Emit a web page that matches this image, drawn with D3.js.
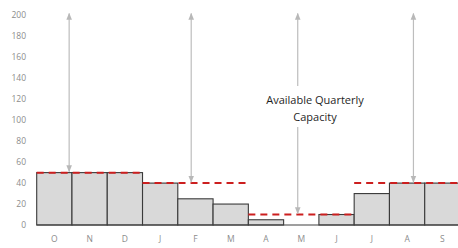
<!DOCTYPE html>
<html>
<head>
<meta charset="utf-8">
<script src="https://cdn.jsdelivr.net/npm/d3@7"></script>
<style>
  body { margin: 0; background: #fff; }
  svg { display: block; }
</style>
</head>
<body>
<script>
// monthly values, Oct..Sep
var months = ["O", "N", "D", "J", "F", "M", "A", "M", "J", "J", "A", "S"];
var usage = [50, 50, 50, 40, 25, 20, 5, 0, 10, 30, 40, 40];
var quarterCapacity = [50, 40, 10, 40];
var yTicks = [0, 20, 40, 60, 80, 100, 120, 140, 160, 180, 200];
// where the "available capacity" arrows sit, in month units
var arrowAt = [0.92, 4.38, 7.4, 10.68];
var label = ["Available Quarterly", "Capacity"];

var width = 458, height = 248;

var svg = d3.select("body").append("svg")
    .attr("width", width)
    .attr("height", height);

var x = d3.scaleBand()
    .domain(d3.range(months.length))
    .range([36.7, 460])
    .padding(0);

var xPos = d3.scaleLinear()
    .domain([0, months.length])
    .range(x.range());

var y = d3.scaleLinear()
    .domain([0, 200])
    .range([225, 15.5]);

var defs = svg.append("defs");
defs.append("marker")
    .attr("id", "head")
    .attr("viewBox", "0 0 10 10")
    .attr("refX", 9)
    .attr("refY", 5)
    .attr("markerWidth", 7)
    .attr("markerHeight", 7)
    .attr("markerUnits", "userSpaceOnUse")
    .attr("orient", "auto-start-reverse")
    .append("path")
    .attr("d", "M0,1L10,5L0,9Z")
    .attr("fill", "#b8b8b8");

// y axis labels (no line)
svg.append("g")
    .selectAll("text")
    .data(yTicks)
    .enter().append("text")
    .attr("x", 26)
    .attr("y", d => y(d))
    .attr("dy", "0.35em")
    .attr("text-anchor", "end")
    .attr("font-family", "Open Sans, sans-serif")
    .attr("font-size", 8.5)
    .attr("fill", "#8c8c8c")
    .text(d => d);

// bars
svg.append("g")
    .selectAll("rect")
    .data(usage)
    .enter().append("rect")
    .attr("x", (d, i) => x(i))
    .attr("y", d => y(d))
    .attr("width", x.bandwidth())
    .attr("height", d => y(0) - y(d))
    .attr("fill", "#d9d9d9")
    .attr("stroke", "#3a3a3a")
    .attr("stroke-width", 1.1);

// baseline
svg.append("line")
    .attr("x1", x.range()[0])
    .attr("x2", width)
    .attr("y1", y(0))
    .attr("y2", y(0))
    .attr("stroke", "#404040")
    .attr("stroke-width", 1.2);

// x labels
svg.append("g")
    .selectAll("text")
    .data(months)
    .enter().append("text")
    .attr("x", (d, i) => x(i) + x.bandwidth() / 2)
    .attr("y", 239)
    .attr("dy", "0.35em")
    .attr("text-anchor", "middle")
    .attr("font-family", "Open Sans, sans-serif")
    .attr("font-size", 8.5)
    .attr("fill", "#8c8c8c")
    .text(d => d);

// quarterly capacity dashed lines
svg.append("g")
    .selectAll("line")
    .data(quarterCapacity)
    .enter().append("line")
    .attr("x1", (d, i) => x(i * 3))
    .attr("x2", (d, i) => x(i * 3 + 2) + x.bandwidth())
    .attr("y1", d => y(d))
    .attr("y2", d => y(d))
    .attr("stroke", "#cc1f1f")
    .attr("stroke-width", 2)
    .attr("stroke-dasharray", "7,5");

// double-headed arrows up to 200
svg.append("g")
    .selectAll("line")
    .data(quarterCapacity)
    .enter().append("line")
    .attr("x1", (d, i) => xPos(arrowAt[i]))
    .attr("x2", (d, i) => xPos(arrowAt[i]))
    .attr("y1", y(200) - 2)
    .attr("y2", d => y(d) - 1)
    .attr("stroke", "#bdbdbd")
    .attr("stroke-width", 1.2)
    .attr("marker-start", "url(#head)")
    .attr("marker-end", "url(#head)");

// annotation with white box behind it
svg.append("rect")
    .attr("x", 256)
    .attr("y", 86)
    .attr("width", 118)
    .attr("height", 41)
    .attr("fill", "#fff");

svg.append("text")
    .attr("x", 315)
    .attr("y", 100)
    .attr("text-anchor", "middle")
    .attr("font-family", "Open Sans, sans-serif")
    .attr("font-size", 11)
    .attr("fill", "#1f1f1f")
    .selectAll("tspan")
    .data(label)
    .enter().append("tspan")
    .attr("x", 315)
    .attr("dy", (d, i) => i == 0 ? "0.35em" : "1.6em")
    .text(d => d);
</script>
</body>
</html>
